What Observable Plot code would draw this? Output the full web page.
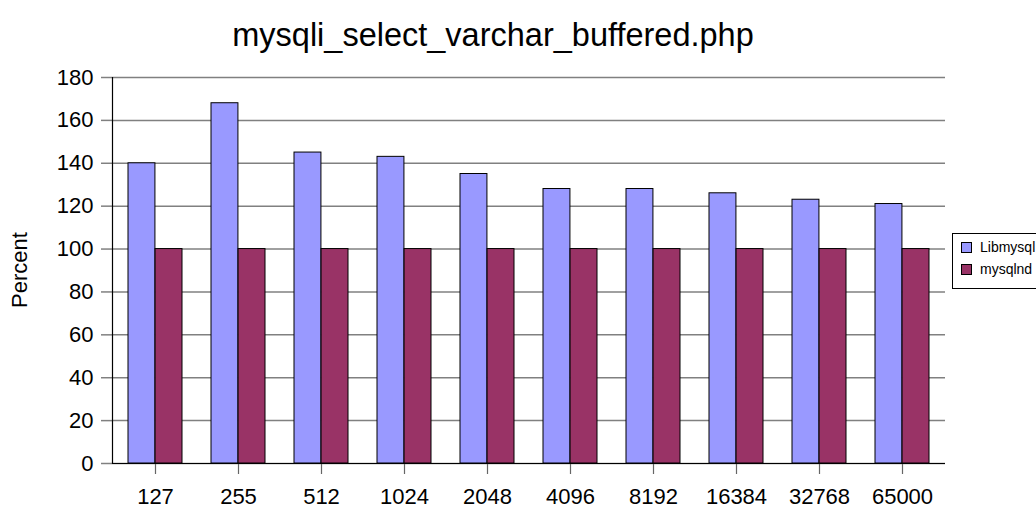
<!DOCTYPE html>
<html>
<head>
<meta charset="utf-8">
<script src="https://cdn.jsdelivr.net/npm/d3@7"></script>
<script src="https://cdn.jsdelivr.net/npm/@observablehq/plot@0.6"></script>
<style>
  html, body { margin: 0; padding: 0; background: #fff; overflow: hidden; }
  body { width: 1036px; height: 508px; position: relative; font-family: "Liberation Sans", Arial, sans-serif; }
  #title { position: absolute; left: 0; width: 986px; top: 19px; text-align: center; font-size: 32.5px; line-height: 32px; color: #000; }
  #ylab { position: absolute; left: 20px; top: 270px; transform: translate(-50%, -50%) rotate(-90deg); font-size: 22px; white-space: nowrap; }
  #chart { position: absolute; left: 0; top: 60px; }
  #legend { position: absolute; left: 952px; top: 233px; width: 110px; height: 56px; border: 1px solid #000; box-sizing: border-box; background: #fff; font-size: 14px; }
  .item { position: absolute; left: 8px; display: flex; align-items: center; white-space: nowrap; }
  .sw { width: 9px; height: 9px; border: 1px solid #000; margin-right: 8px; }
</style>
</head>
<body>
<div id="title">mysqli_select_varchar_buffered.php</div>
<div id="ylab">Percent</div>
<div id="chart"></div>
<div id="legend"></div>
<script>
const categories = ["127", "255", "512", "1024", "2048", "4096", "8192", "16384", "32768", "65000"];
const seriesNames = ["Libmysql", "mysqlnd"];
const libmysqlValues = [140, 168, 145, 143, 135, 128, 128, 126, 123, 121];
const mysqlndValues = [100, 100, 100, 100, 100, 100, 100, 100, 100, 100];
const yTicks = [0, 20, 40, 60, 80, 100, 120, 140, 160, 180];
const colors = ["#9999ff", "#993366"];

const libData = categories.map((c, i) => ({cat: c, value: libmysqlValues[i]}));
const ndData = categories.map((c, i) => ({cat: c, value: mysqlndValues[i]}));

const W = 1036, H = 448, mL = 112, mR = 91, mT = 17, mB = 45;
const paddingInner = 0.35, paddingOuter = 0.175;
const yMax = 180;
// half of the category band (each series takes one half of the band)
const halfBand = (W - mL - mR) / categories.length * (1 - paddingInner) / 2;
// tick length below the axis, expressed in y units (11px)
const tickUnits = 11 * yMax / (H - mT - mB);

const chart = Plot.plot({
  width: W,
  height: H,
  marginTop: mT,
  marginBottom: mB,
  marginLeft: mL,
  marginRight: mR,
  style: {fontFamily: "'Liberation Sans', Arial, sans-serif", fontSize: "22px", color: "#000", background: "transparent"},
  x: {domain: categories, paddingInner, paddingOuter, label: null},
  y: {domain: [0, yMax], label: null},
  marks: [
    Plot.gridY(yTicks, {stroke: "#808080", strokeOpacity: 1, strokeWidth: 1.5}),
    Plot.axisY(yTicks, {tickSize: 11, tickPadding: 8, stroke: "#808080", strokeWidth: 1.5, fontSize: 22, label: null}),
    Plot.barY(libData, {x: "cat", y: "value", fill: colors[0], stroke: "#000", strokeWidth: 1, insetRight: halfBand}),
    Plot.barY(ndData, {x: "cat", y: "value", fill: colors[1], stroke: "#000", strokeWidth: 1, insetLeft: halfBand}),
    Plot.axisX({anchor: "bottom", tickSize: 0, tickPadding: 25, fontSize: 22, label: null}),
    Plot.ruleX(categories, {x: d => d, y1: 0, y2: -tickUnits, stroke: "#666", strokeWidth: 1.2}),
    Plot.ruleY([0], {stroke: "#000", strokeWidth: 1.2}),
    Plot.frame({anchor: "left", stroke: "#000", strokeWidth: 1.2})
  ]
});
document.getElementById("chart").appendChild(chart);

const legend = document.getElementById("legend");
seriesNames.forEach((name, i) => {
  const item = document.createElement("div");
  item.className = "item";
  item.style.top = (i === 0 ? 5 : 27) + "px";
  const sw = document.createElement("div");
  sw.className = "sw";
  sw.style.background = colors[i];
  const label = document.createElement("span");
  label.textContent = name;
  item.appendChild(sw);
  item.appendChild(label);
  legend.appendChild(item);
});
</script>
</body>
</html>
